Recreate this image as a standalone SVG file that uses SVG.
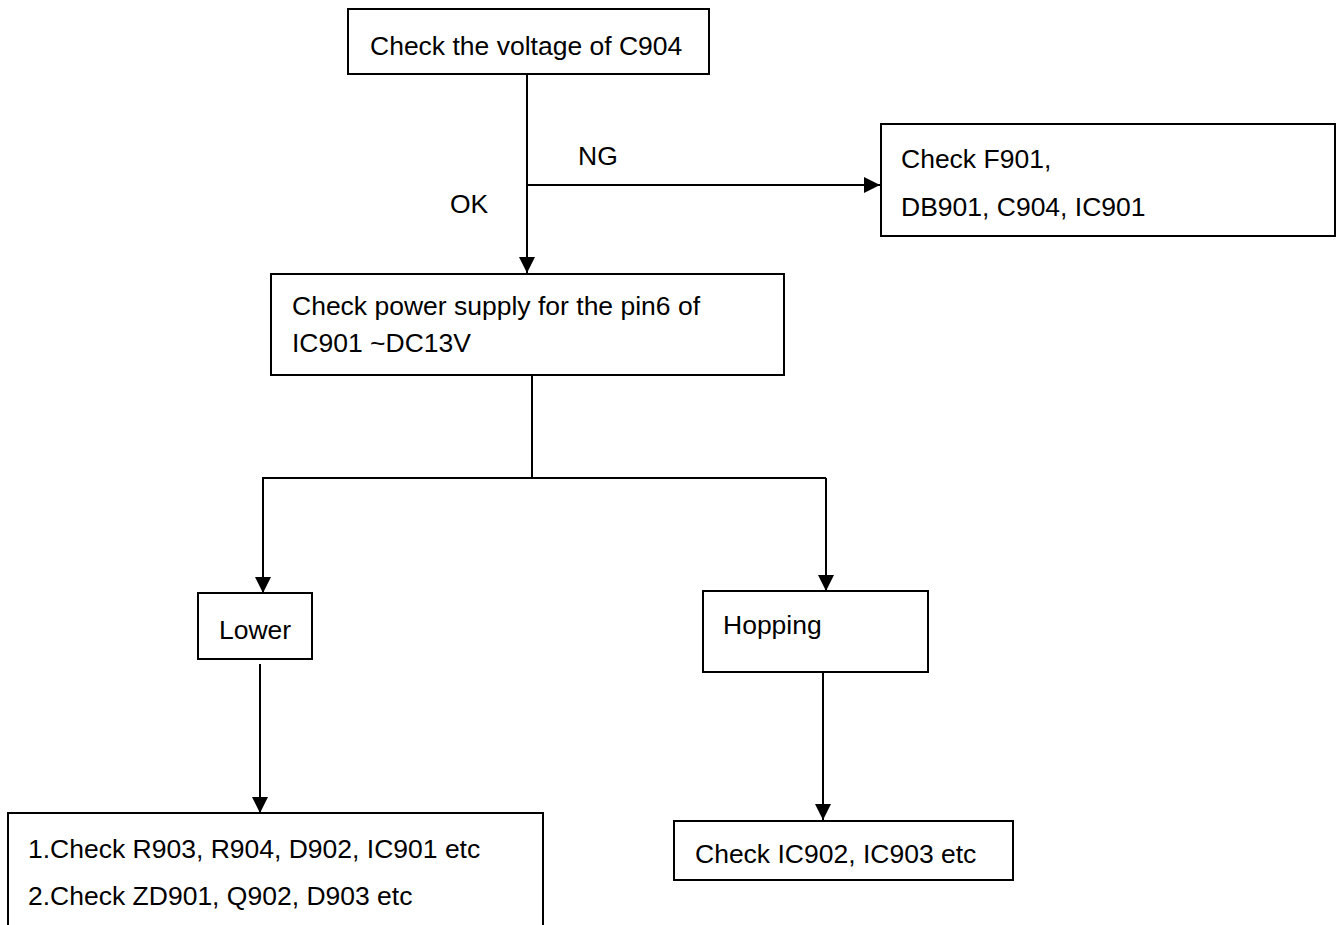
<svg xmlns="http://www.w3.org/2000/svg" width="1337" height="925" viewBox="0 0 1337 925">
<style>
.box{fill:#fff;stroke:#000;stroke-width:2}
.t{font-family:"Liberation Sans",Arial,sans-serif;font-size:26.5px;fill:#000}
.c{fill:none;stroke:#000;stroke-width:2}
</style>
<defs>
<marker id="ah" markerUnits="userSpaceOnUse" markerWidth="17" markerHeight="16" refX="16" refY="8" orient="auto">
<path d="M0,0 L16,8 L0,16 z" fill="#000"/>
</marker>
</defs>
<rect width="1337" height="925" fill="#fff"/>
<g id="connectors">
<line class="c" x1="527" y1="74" x2="527" y2="273" marker-end="url(#ah)"/>
<line class="c" x1="527" y1="185" x2="880" y2="185" marker-end="url(#ah)"/>
<line class="c" x1="532" y1="375" x2="532" y2="478"/>
<line class="c" x1="262" y1="478" x2="826" y2="478"/>
<line class="c" x1="263" y1="478" x2="263" y2="593" marker-end="url(#ah)"/>
<line class="c" x1="826" y1="478" x2="826" y2="591" marker-end="url(#ah)"/>
<line class="c" x1="260" y1="664" x2="260" y2="813" marker-end="url(#ah)"/>
<line class="c" x1="823" y1="672" x2="823" y2="820" marker-end="url(#ah)"/>
<text class="t" x="578" y="165">NG</text>
<text class="t" x="450" y="213">OK</text>
</g>
<g id="n1">
<rect class="box" x="348" y="9" width="361" height="65"/>
<text class="t" x="370" y="55">Check the voltage of C904</text>
</g>
<g id="n2">
<rect class="box" x="881" y="124" width="454" height="112"/>
<text class="t" x="901" y="168">Check F901,</text>
<text class="t" x="901" y="216">DB901, C904, IC901</text>
</g>
<g id="n3">
<rect class="box" x="271" y="274" width="513" height="101"/>
<text class="t" x="292" y="315">Check power supply for the pin6 of</text>
<text class="t" x="292" y="352">IC901 ~DC13V</text>
</g>
<g id="n4">
<rect class="box" x="198" y="593" width="114" height="66"/>
<text class="t" x="219" y="639">Lower</text>
</g>
<g id="n5">
<rect class="box" x="703" y="591" width="225" height="81"/>
<text class="t" x="723" y="634">Hopping</text>
</g>
<g id="n6">
<rect class="box" x="8" y="813" width="535" height="130"/>
<text class="t" x="28" y="858">1.Check R903, R904, D902, IC901 etc</text>
<text class="t" x="28" y="905">2.Check ZD901, Q902, D903 etc</text>
</g>
<g id="n7">
<rect class="box" x="674" y="821" width="339" height="59"/>
<text class="t" x="695" y="863">Check IC902, IC903 etc</text>
</g>
</svg>
